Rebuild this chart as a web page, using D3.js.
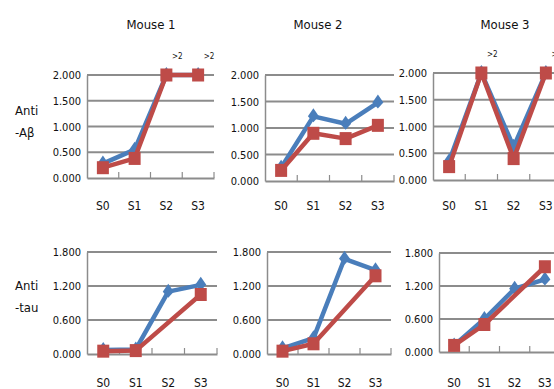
<!DOCTYPE html>
<html><head><meta charset="utf-8">
<script src="https://cdn.jsdelivr.net/npm/d3@7"></script>
<style>
body{margin:0;background:#fff;}
text{font-family:"DejaVu Sans",sans-serif;font-stretch:condensed;fill:#111;}
</style></head><body>
<svg id="c" width="554" height="389"></svg>
<script>
const categories = ["S0","S1","S2","S3"];
const mice = ["Mouse 1","Mouse 2","Mouse 3"];
const rowLabels = [["Anti","-Aβ"],["Anti","-tau"]];
const abTicks = [0,0.5,1,1.5,2];
const tauTicks = [0,0.6,1.2,1.8];
// Anti-Aβ (blue = series 1, red = series 2)
const abBlue = [[0.28,0.55,2.0,2.0],[0.25,1.22,1.08,1.48],[0.35,2.0,0.62,2.0]];
const abRed  = [[0.20,0.38,2.0,2.0],[0.20,0.90,0.80,1.05],[0.25,2.0,0.40,2.0]];
// ">2" annotation flags (value exceeds axis)
const abOver = [[false,false,true,true],[false,false,false,false],[false,true,false,true]];
// Anti-tau
const tauBlue = [[0.07,0.08,1.10,1.22],[0.10,0.28,1.68,1.48],[0.12,0.60,1.15,1.32]];
const tauRed  = [[0.05,0.06,null,1.05],[0.05,0.18,null,1.38],[0.12,0.50,null,1.55]];

const svg = d3.select("#c");
const blue = "#4a7ebb", red = "#be4b48", grid = "#8c8c8c";

const layout = [
  [{l:87,r:214,t:75,b:178},{l:265,r:394,t:75,b:181},{l:433,r:562,t:73,b:180}],
  [{l:87,r:217,t:252,b:354},{l:267,r:391,t:252,b:354},{l:439,r:560,t:253,b:352}]
];
const titleX = [151,318,505];

mice.forEach((m,i)=>svg.append("text").attr("x",titleX[i]).attr("y",29)
  .attr("text-anchor","middle").style("font-size","13px").text(m));

rowLabels.forEach((lab,r)=>{
  const y0 = r===0?115:290;
  lab.forEach((t,k)=>svg.append("text").attr("x",15).attr("y",y0+k*22)
    .style("font-size","13px").text(t));
});

function panel(L, ticks, maxV, blueV, redV, over, labY){
  const x = d3.scalePoint().domain(categories).range([L.l,L.r]).padding(0.5);
  const y = d3.scaleLinear().domain([0,maxV]).range([L.b,L.t]);
  const g = svg.append("g");
  g.selectAll(".gl").data(ticks.filter(t=>t>0)).enter().append("line")
    .attr("x1",L.l).attr("x2",L.r).attr("y1",d=>y(d)).attr("y2",d=>y(d))
    .attr("stroke",grid).attr("stroke-width",2.2);
  const ya = d3.axisLeft(y).tickValues(ticks).tickFormat(d3.format(".3f")).tickSize(0).tickPadding(6);
  const yg = g.append("g").attr("transform",`translate(${L.l},0)`).call(ya);
  yg.select(".domain").attr("stroke",grid).attr("stroke-width",1.5);
  yg.selectAll("text").style("font-size","11px").style("font-family","DejaVu Sans").style("font-stretch","condensed");
  const step = x.step();
  const xa = d3.axisBottom(x).tickSize(0).tickPadding(0).tickFormat(()=>"");
  const xg = g.append("g").attr("transform",`translate(0,${L.b})`).call(xa);
  xg.select(".domain").attr("stroke",grid).attr("stroke-width",2.2);
  g.selectAll(".tk").data(d3.range(1,categories.length+1)).enter().append("line")
    .attr("x1",d=>L.l+d*step).attr("x2",d=>L.l+d*step).attr("y1",L.b).attr("y2",L.b-6)
    .attr("stroke",grid).attr("stroke-width",1.2);
  g.selectAll(".xl").data(categories).enter().append("text")
    .attr("x",d=>x(d)).attr("y",labY).attr("text-anchor","middle")
    .style("font-size","12px").text(d=>d);
  const line = d3.line().x(d=>x(d.c)).y(d=>y(d.v));
  const series = [[blueV,blue,"d"],[redV,red,"s"]];
  series.forEach(([vals,col,shape])=>{
    const pts = categories.map((c,i)=>({c,v:vals[i]})).filter(d=>d.v!==null);
    g.append("path").datum(pts).attr("d",line).attr("fill","none")
      .attr("stroke",col).attr("stroke-width",4.5).attr("stroke-linejoin","round");
    pts.forEach(p=>{
      const cx=x(p.c), cy=y(p.v);
      if(shape==="s"){
        g.append("rect").attr("x",cx-6).attr("y",cy-6.5).attr("width",12).attr("height",13).attr("fill",col);
      } else {
        g.append("path").attr("d",`M${cx},${cy-8}L${cx+5.5},${cy}L${cx},${cy+6}L${cx-5.5},${cy}Z`).attr("fill",col);
      }
    });
  });
  if(over){
    g.selectAll(".ov").data(categories.filter((c,i)=>over[i])).enter().append("text")
      .attr("x",d=>x(d)+11).attr("y",L.t-16).attr("text-anchor","middle")
      .style("font-size","8px").text(">2");
  }
}

for(let i=0;i<3;i++){
  panel(layout[0][i], abTicks, 2, abBlue[i], abRed[i], abOver[i], 210);
  panel(layout[1][i], tauTicks, 1.8, tauBlue[i], tauRed[i], null, 387);
}
</script></body></html>
